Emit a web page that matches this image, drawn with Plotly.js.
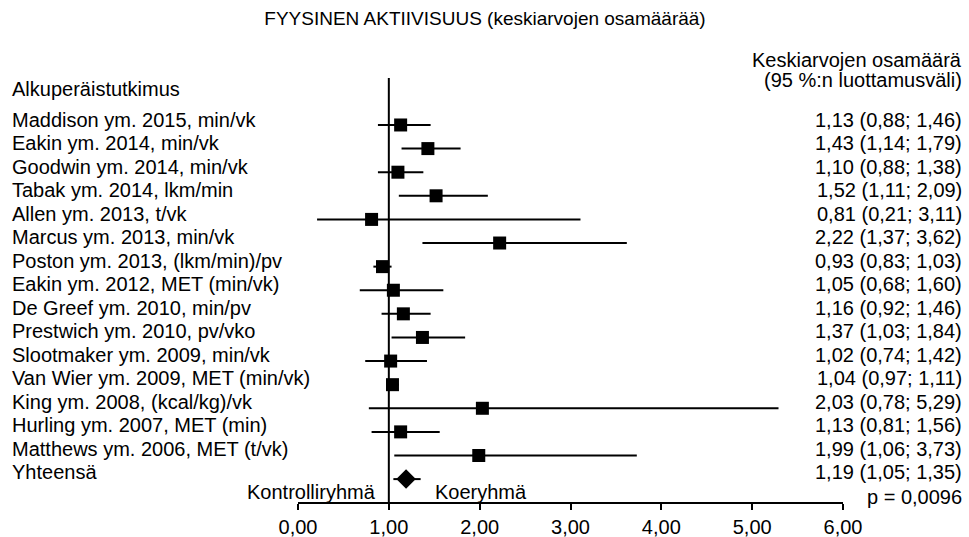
<!DOCTYPE html>
<html>
<head>
<meta charset="utf-8">
<script src="https://cdn.plot.ly/plotly-3.0.1.min.js"></script>
<style>body{margin:0;padding:0;background:#fff;} #chart{width:969px;height:537px;}</style>
</head>
<body>
<div id="chart"></div>
<script>
const studies = [
  "Maddison ym. 2015, min/vk",
  "Eakin ym. 2014, min/vk",
  "Goodwin ym. 2014, min/vk",
  "Tabak ym. 2014, lkm/min",
  "Allen ym. 2013, t/vk",
  "Marcus ym. 2013, min/vk",
  "Poston ym. 2013, (lkm/min)/pv",
  "Eakin ym. 2012, MET (min/vk)",
  "De Greef ym. 2010, min/pv",
  "Prestwich ym. 2010, pv/vko",
  "Slootmaker ym. 2009, min/vk",
  "Van Wier ym. 2009, MET (min/vk)",
  "King ym. 2008, (kcal/kg)/vk",
  "Hurling ym. 2007, MET (min)",
  "Matthews ym. 2006, MET (t/vk)"
];
const estimates = [1.13, 1.43, 1.10, 1.52, 0.81, 2.22, 0.93, 1.05, 1.16, 1.37, 1.02, 1.04, 2.03, 1.13, 1.99];
const lower     = [0.88, 1.14, 0.88, 1.11, 0.21, 1.37, 0.83, 0.68, 0.92, 1.03, 0.74, 0.97, 0.78, 0.81, 1.06];
const upper     = [1.46, 1.79, 1.38, 2.09, 3.11, 3.62, 1.03, 1.60, 1.46, 1.84, 1.42, 1.11, 5.29, 1.56, 3.73];
const totalLabel = "Yhteensä";
const totalEst = 1.19, totalLo = 1.05, totalHi = 1.35;
const pText = "p = 0,0096";
const xTickVals = [0, 1, 2, 3, 4, 5, 6];

const FONT = "Liberation Sans, Arial, sans-serif";
const FS = 20;
const fmt = v => v.toFixed(2).replace(".", ",");
const ciText = (e, l, h) => `${fmt(e)} (${fmt(l)}; ${fmt(h)})`;

const rows = studies.map((_, i) => i);
const totalRow = studies.length;

const traces = [
  {
    type: "scatter", mode: "markers",
    x: estimates, y: rows,
    marker: {symbol: "square", size: 13, color: "#000"},
    error_x: {type: "data", symmetric: false,
      array: estimates.map((e, i) => upper[i] - e),
      arrayminus: estimates.map((e, i) => e - lower[i]),
      width: 0, thickness: 2, color: "#000"},
    cliponaxis: false, hoverinfo: "skip"
  },
  {
    type: "scatter", mode: "markers",
    x: [totalEst], y: [totalRow],
    marker: {symbol: "diamond", size: 15, color: "#000"},
    error_x: {type: "data", symmetric: false,
      array: [totalHi - totalEst], arrayminus: [totalEst - totalLo],
      width: 0, thickness: 2, color: "#000"},
    cliponaxis: false, hoverinfo: "skip"
  }
];

const txtFont = {family: FONT, size: FS, color: "#000"};
const annotations = [];
const leftX = (10 - 298) / 545;
const rightX = (964 - 298) / 545;
const rowShift = i => 5 + i * 2 / 15;
studies.concat([totalLabel]).forEach((s, i) => {
  annotations.push({xref: "paper", yref: "y", x: leftX, y: i, yshift: rowShift(i), xanchor: "left", yanchor: "middle",
    text: s, showarrow: false, font: txtFont});
});
estimates.concat([totalEst]).forEach((e, i) => {
  const l = i < estimates.length ? lower[i] : totalLo;
  const h = i < estimates.length ? upper[i] : totalHi;
  annotations.push({xref: "paper", yref: "y", x: rightX, y: i, yshift: rowShift(i), xanchor: "right", yanchor: "middle",
    text: ciText(e, l, h), showarrow: false, font: txtFont});
});
annotations.push(
  {xref: "paper", yref: "paper", x: leftX, y: 0.974, xanchor: "left", yanchor: "middle",
   text: "Alkuperäistutkimus", showarrow: false, font: txtFont},
  {xref: "paper", yref: "paper", x: rightX, y: 1.042, xanchor: "right", yanchor: "middle",
   text: "Keskiarvojen osamäärä", showarrow: false, font: txtFont},
  {xref: "paper", yref: "paper", x: rightX, y: 0.995, xanchor: "right", yanchor: "middle",
   text: "(95 %:n luottamusväli)", showarrow: false, font: txtFont},
  {xref: "paper", yref: "paper", x: rightX, y: 0.012, xanchor: "right", yanchor: "middle",
   text: pText, showarrow: false, font: txtFont},
  {xref: "x", yref: "paper", x: 0.88, y: 0.024, xanchor: "right", yanchor: "middle",
   text: "Kontrolliryhmä", showarrow: false, font: txtFont},
  {xref: "x", yref: "paper", x: 1.49, y: 0.024, xanchor: "left", yanchor: "middle",
   text: "Koeryhmä", showarrow: false, font: txtFont}
);

const layout = {
  width: 969, height: 537,
  margin: {l: 298, r: 126, t: 78, b: 35},
  paper_bgcolor: "#fff", plot_bgcolor: "#fff",
  showlegend: false,
  separators: ", ",
  title: {text: "FYYSINEN AKTIIVISUUS (keskiarvojen osamäärää)", x: 485 / 969, xref: "container", xanchor: "center",
          y: 1 - 18 / 537, yanchor: "middle", yref: "container",
          font: {family: FONT, size: 19, color: "#000"}},
  xaxis: {range: [0, 6], tickvals: xTickVals, tickformat: ".2f",
          showgrid: false, zeroline: false, showline: true, linecolor: "#000", linewidth: 2,
          ticks: "outside", ticklen: 6, tickwidth: 2, tickcolor: "#000",
          tickfont: {family: FONT, size: FS, color: "#000"}, fixedrange: true},
  yaxis: {range: [15.97, -1.99], visible: false, showgrid: false, zeroline: false, fixedrange: true},
  shapes: [{type: "line", xref: "x", yref: "paper", x0: 1, x1: 1, y0: 0, y1: 1,
            line: {color: "#000", width: 2}}],
  annotations: annotations
};

Plotly.newPlot("chart", traces, layout, {staticPlot: true, displayModeBar: false});
</script>
</body>
</html>
